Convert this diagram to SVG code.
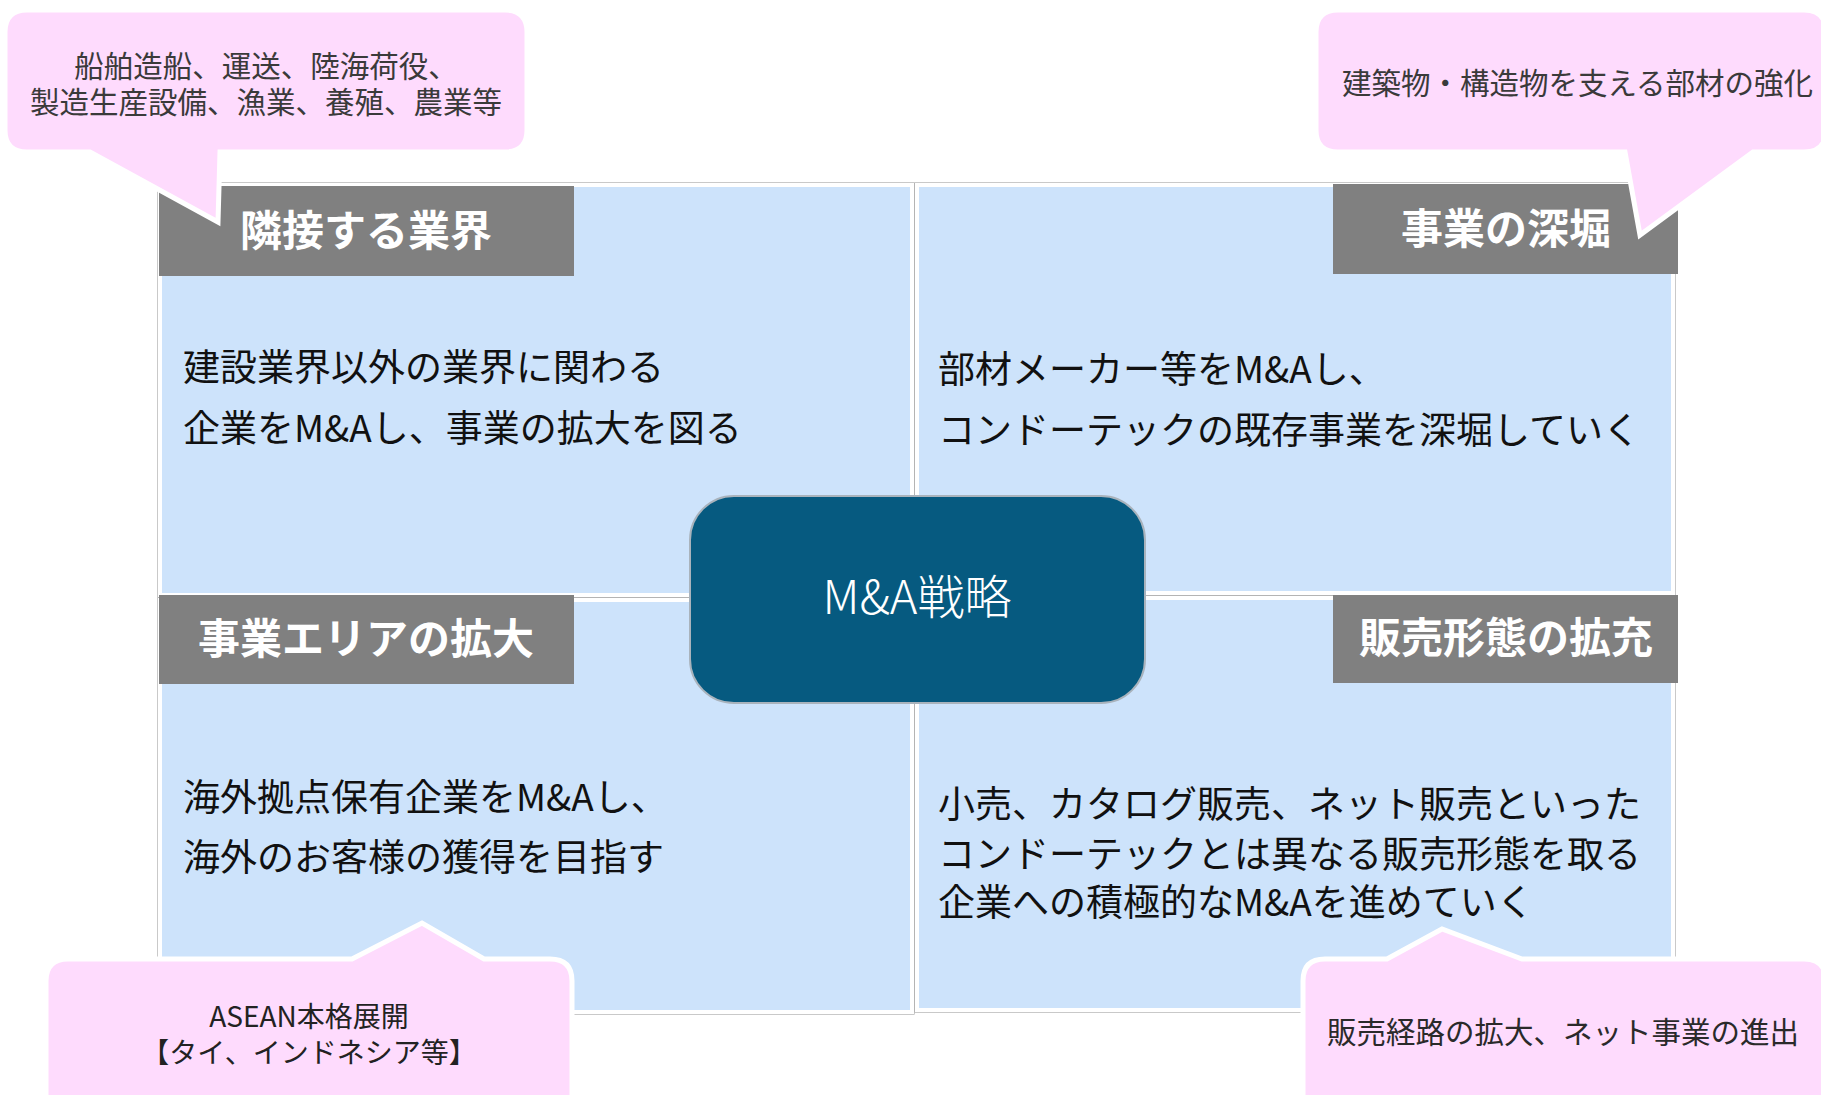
<svg xmlns="http://www.w3.org/2000/svg" width="1821" height="1095" viewBox="0 0 1821 1095">
<style>
.panel{fill:#CDE3FB;stroke:#FFFFFF;stroke-width:4}
.frame{fill:none;stroke:#A6A6A6;stroke-width:1.2}
.label{fill:#808080}
.ltxt{font-family:"Noto Sans CJK JP","Noto Sans",sans-serif;font-size:42px;font-weight:bold;fill:#FFFFFF;text-anchor:middle}
.body{font-family:"Noto Sans CJK JP","Noto Sans",sans-serif;font-size:37px;fill:#111111}
.callout{fill:#FEDBFD;stroke:#FFFFFF;stroke-width:5;stroke-linejoin:miter}
.ctxt{font-family:"Noto Sans CJK JP","Noto Sans",sans-serif;font-size:29.5px;fill:#3A3A3A}
.center{fill:#065A80;stroke:#A9B3BC;stroke-width:2}
.ctr{font-family:"Noto Sans CJK JP","Noto Sans",sans-serif;font-size:47px;fill:#FFFFFF;text-anchor:middle;font-weight:300}
</style>
<rect width="1821" height="1095" fill="#FFFFFF"/>
<g id="connectors"></g>
<g id="quadrant-tl">
<rect class="frame" x="158" y="183" width="756" height="414"/>
<rect class="panel" x="160" y="185" width="752" height="410"/>
<text class="body" x="183" y="381">建設業界以外の業界に関わる</text>
<text class="body" x="183" y="442">企業をM&amp;Aし、事業の拡大を図る</text>
</g>
<g id="quadrant-tr">
<rect class="frame" x="915" y="183" width="760" height="412"/>
<rect class="panel" x="917" y="185" width="756" height="408"/>
<text class="body" x="938" y="383">部材メーカー等をM&amp;Aし、</text>
<text class="body" x="938" y="444">コンドーテックの既存事業を深堀していく</text>
</g>
<g id="quadrant-bl">
<rect class="frame" x="158" y="598" width="756" height="416"/>
<rect class="panel" x="160" y="600" width="752" height="412"/>
<text class="body" x="183" y="811">海外拠点保有企業をM&amp;Aし、</text>
<text class="body" x="183" y="871">海外のお客様の獲得を目指す</text>
</g>
<g id="quadrant-br">
<rect class="frame" x="915" y="596" width="760" height="416"/>
<rect class="panel" x="917" y="598" width="756" height="412"/>
<text class="body" x="938" y="818">小売、カタログ販売、ネット販売といった</text>
<text class="body" x="938" y="868">コンドーテックとは異なる販売形態を取る</text>
<text class="body" x="938" y="916">企業への積極的なM&amp;Aを進めていく</text>
</g>
<g id="center-node">
<rect class="center" x="690" y="496" width="455" height="207" rx="44" ry="44"/>
<text class="ctr" x="917" y="614">M&amp;A戦略</text>
</g>
<g id="label-tl">
<rect class="label" x="159" y="186" width="415" height="90"/>
<text class="ltxt" x="366" y="246">隣接する業界</text>
</g>
<g id="label-tr">
<rect class="label" x="1333" y="184" width="345" height="90"/>
<text class="ltxt" x="1506" y="244">事業の深堀</text>
</g>
<g id="label-bl">
<rect class="label" x="159" y="595" width="415" height="89"/>
<text class="ltxt" x="366" y="654">事業エリアの拡大</text>
</g>
<g id="label-br">
<rect class="label" x="1333" y="595" width="345" height="88"/>
<text class="ltxt" x="1506" y="653">販売形態の拡充</text>
</g>
<g id="callout-tl">
<path class="callout" d="M27 10 H505 Q527 10 527 32 V130 Q527 152 505 152 H220 L218 222 L90 152 H27 Q5 152 5 130 V32 Q5 10 27 10 Z"/>
<text class="ctxt" x="266" y="77" text-anchor="middle">船舶造船、運送、陸海荷役、</text>
<text class="ctxt" x="266" y="113" text-anchor="middle">製造生産設備、漁業、養殖、農業等</text>
</g>
<g id="callout-tr">
<path class="callout" d="M1338 10 H1804 Q1826 10 1826 32 V130 Q1826 152 1804 152 H1753 L1640 235 L1625 152 H1338 Q1316 152 1316 130 V32 Q1316 10 1338 10 Z"/>
<text class="ctxt" x="1342" y="94">建築物・構造物を支える部材の強化</text>
</g>
<g id="callout-bl">
<path class="callout" d="M68 959 H352 L422 923 L484 959 H550 Q572 959 572 981 V1110 H46 V981 Q46 959 68 959 Z"/>
<text class="ctxt" x="309" y="1027" text-anchor="middle" style="font-size:28px;fill:#222">ASEAN本格展開</text>
<text class="ctxt" x="309" y="1063" text-anchor="middle" style="font-size:28px;fill:#222">【タイ、インドネシア等】</text>
</g>
<g id="callout-br">
<path class="callout" d="M1325 959 H1387 L1442 929 L1522 959 H1804 Q1826 959 1826 981 V1110 H1303 V981 Q1303 959 1325 959 Z"/>
<text class="ctxt" x="1327" y="1043" style="fill:#2A2A2A">販売経路の拡大、ネット事業の進出</text>
</g>
</svg>
